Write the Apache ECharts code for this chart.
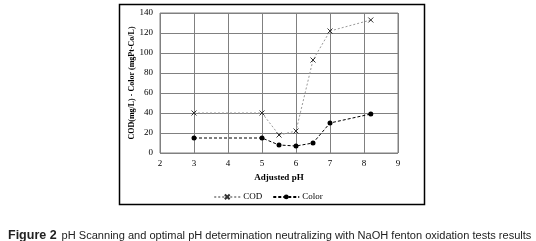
<!DOCTYPE html>
<html>
<head>
<meta charset="utf-8">
<script src="https://cdn.jsdelivr.net/npm/echarts@6/dist/echarts.min.js"></script>
<style>
  html, body { margin: 0; padding: 0; background: #fff; }
  #chart { width: 536px; height: 241px; }
</style>
</head>
<body>
<div id="chart"></div>
<script>
// adjusted pH values
var phValues = [3, 5, 5.5, 6, 6.5, 7, 8.2];
// COD (mg/L)
var codValues = [40, 40, 18, 22, 93, 122, 133];
// Color (mgPt-Co/L)
var colorValues = [15, 15, 8, 7, 10, 30, 39];

function pairs(xs, ys) {
    return xs.map(function (x, i) { return [x, ys[i]]; });
}

var myChart = echarts.init(document.getElementById('chart'));

var serif = '"Liberation Serif", "DejaVu Serif", serif';
var crossPath = 'path://M0,0L10,10M10,0L0,10';

var option = {
    animation: false,
    backgroundColor: '#fff',
    title: {
        left: 3,
        top: 222,
        text: '{b|Figure 2} {r|pH Scanning and optimal pH determination neutralizing with NaOH fenton oxidation tests results}',
        textStyle: {
            fontWeight: 'normal',
            rich: {
                b: { fontFamily: '"Liberation Sans", Arial', fontWeight: 'bold', fontSize: 12.5, color: '#222' },
                r: { fontFamily: '"Liberation Sans", Arial', fontWeight: 'normal', fontSize: 11.05, color: '#222' }
            }
        }
    },
    graphic: [{
        type: 'rect',
        shape: { x: 119.5, y: 4.5, width: 305, height: 200 },
        style: { fill: 'none', stroke: '#000', lineWidth: 1.5 },
        z: -1
    }],
    grid: {
        left: 160,
        right: 138,
        top: 13,
        bottom: 88,
        show: true,
        borderColor: '#808080',
        borderWidth: 1
    },
    legend: {
        top: 187,
        left: 'center',
        itemWidth: 26,
        itemHeight: 6,
        itemGap: 10,
        textStyle: { fontFamily: serif, fontSize: 9, color: '#000', padding: [0, 0, 0, -2] },
        data: ['COD', 'Color']
    },
    xAxis: {
        type: 'value',
        min: 2,
        max: 9,
        interval: 1,
        name: 'Adjusted pH',
        nameLocation: 'middle',
        nameGap: 18,
        nameTextStyle: { fontFamily: serif, fontWeight: 'bold', fontSize: 9, color: '#000' },
        axisLine: { show: false },
        axisTick: { show: false },
        axisLabel: { fontFamily: serif, fontSize: 9, color: '#000', margin: 6 },
        splitLine: { show: true, lineStyle: { color: '#808080', width: 1 } }
    },
    yAxis: {
        type: 'value',
        min: 0,
        max: 140,
        interval: 20,
        name: 'COD(mg/L) - Color (mgPt-Co/L)',
        nameLocation: 'middle',
        nameGap: 22,
        nameTextStyle: { fontFamily: serif, fontWeight: 'bold', fontSize: 8, color: '#000' },
        axisLine: { show: false },
        axisTick: { show: false },
        axisLabel: { fontFamily: serif, fontSize: 9, color: '#000', margin: 7 },
        splitLine: { show: true, lineStyle: { color: '#808080', width: 1 } }
    },
    series: [
        {
            name: 'COD',
            type: 'line',
            data: pairs(phValues, codValues),
            symbol: crossPath,
            symbolSize: 5,
            itemStyle: { color: 'none', borderColor: '#333', borderWidth: 1 },
            lineStyle: { color: '#999', width: 1, type: [2, 2] }
        },
        {
            name: 'Color',
            type: 'line',
            data: pairs(phValues, colorValues),
            symbol: 'circle',
            symbolSize: 5,
            itemStyle: { color: '#000' },
            lineStyle: { color: '#000', width: 1, type: [3, 2] }
        }
    ]
};

myChart.setOption(option);
</script>
</body>
</html>
